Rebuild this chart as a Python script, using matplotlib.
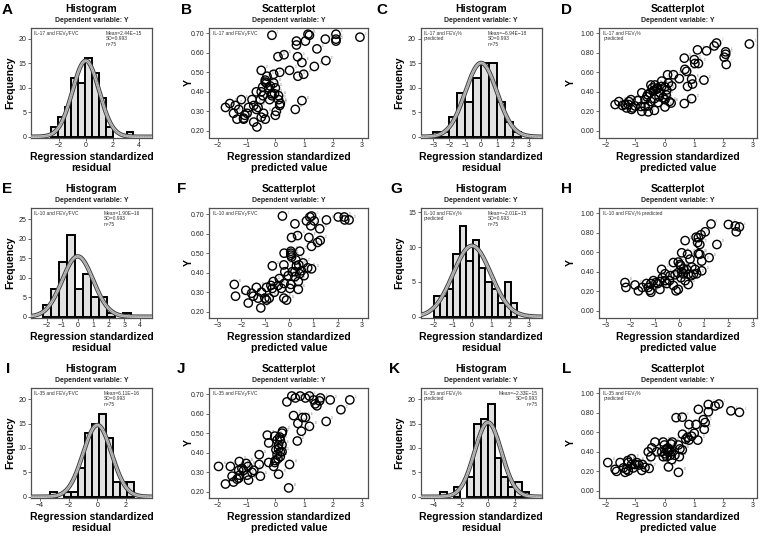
import numpy as np
import matplotlib
matplotlib.use("Agg")
import matplotlib.pyplot as plt

plt.rcParams['font.family'] = ['Liberation Sans', 'DejaVu Sans']

W, H = 761, 536
N_CASES = 75
RESID_SD = 0.993

# ---------------- histogram data (standardized residuals) ----------------
A_counts = [2, 4, 6, 12, 11, 16, 13, 8, 2, 0, 0, 1]
A_bin_start, A_bin_width = -2.62, 0.515
C_counts = [1, 1, 4, 9, 7, 12, 15, 15, 7, 3, 1]
C_bin_start, C_bin_width = -3.0, 0.5
E_counts = [3, 7, 14, 21, 7, 11, 5, 5, 1, 0, 1]
E_bin_start, E_bin_width = -2.26, 0.514
G_counts = [3, 3, 4, 9, 13, 8, 11, 7, 5, 4, 2, 5, 2]
G_bin_start, G_bin_width = -2.0, 0.338
I_counts = [1, 0, 1, 1, 6, 13, 15, 17, 12, 3, 3, 3]
I_bin_start, I_bin_width = -3.3, 0.488
K_counts = [1, 0, 2, 0, 4, 15, 16, 19, 8, 4, 2, 3, 1]
K_bin_start, K_bin_width = -3.56, 0.506

A_mean = "Mean=2.44E\u221215"
C_mean = "Mean=\u22126.94E\u221218"
E_mean = "Mean=1.90E\u221216"
G_mean = "Mean=\u22122.01E\u221215"
I_mean = "Mean=6.11E\u221216"
K_mean = "Mean=\u22122.33E\u221215"

# ---------------- scatter data (standardized predicted value, Y) ----------------
B_points = [(-0.12, 0.69), (0.73, 0.66), (0.73, 0.64), (1.04, 0.66), (1.18, 0.69), (1.13, 0.695),
            (1.73, 0.67), (2.10, 0.695), (2.10, 0.67), (2.10, 0.66), (2.93, 0.68), (1.44, 0.62),
            (0.30, 0.59), (0.09, 0.58), (0.77, 0.58), (0.92, 0.55), (1.75, 0.56), (1.35, 0.53),
            (0.49, 0.51), (0.15, 0.50), (-0.06, 0.49), (-0.49, 0.51), (0.78, 0.48), (0.98, 0.49),
            (-0.35, 0.46), (-0.35, 0.45), (-0.31, 0.445), (-0.66, 0.40), (-0.49, 0.40), (-0.23, 0.42),
            (0.0, 0.42), (-0.43, 0.38), (-0.12, 0.38), (-0.03, 0.39), (-0.81, 0.36), (-1.18, 0.36),
            (-1.39, 0.33), (-1.58, 0.34), (-1.73, 0.32), (-0.75, 0.33), (-0.93, 0.32), (-0.60, 0.32),
            (-0.66, 0.31), (-0.41, 0.29), (-1.27, 0.31), (-1.45, 0.29), (-1.33, 0.26), (-1.10, 0.265),
            (-1.10, 0.26), (-1.06, 0.28), (-0.75, 0.245), (-0.64, 0.22), (-0.49, 0.27), (-0.35, 0.26),
            (0.0, 0.28), (0.03, 0.30), (0.15, 0.33), (0.17, 0.34), (0.69, 0.31), (0.92, 0.355),
            (-0.12, 0.39), (-0.29, 0.48), (-0.06, 0.445), (0.11, 0.38), (-0.18, 0.43), (-0.44, 0.425),
            (0.11, 0.36), (-0.20, 0.36), (-0.98, 0.29), (-0.52, 0.36)]

D_points = [(2.89, 0.89), (1.77, 0.90), (1.69, 0.87), (2.08, 0.81), (2.08, 0.785), (2.03, 0.755),
            (2.10, 0.68), (1.12, 0.83), (1.43, 0.82), (1.01, 0.73), (1.03, 0.69), (1.15, 0.69),
            (0.67, 0.745), (0.69, 0.63), (0.75, 0.61), (0.92, 0.53), (0.95, 0.48), (0.78, 0.455),
            (1.34, 0.52), (0.92, 0.33), (0.67, 0.28), (0.10, 0.575), (0.30, 0.575), (0.50, 0.535),
            (-0.10, 0.51), (0.13, 0.49), (-0.47, 0.47), (-0.33, 0.47), (-0.27, 0.43), (-0.33, 0.42),
            (-0.24, 0.44), (-0.39, 0.41), (0.01, 0.45), (0.07, 0.42), (-0.78, 0.39), (-0.58, 0.37),
            (-0.50, 0.39), (-0.19, 0.35), (-0.05, 0.34), (0.05, 0.37), (0.16, 0.30), (0.01, 0.32),
            (-0.35, 0.33), (-0.67, 0.32), (-0.92, 0.31), (-1.15, 0.32), (-1.56, 0.30), (-1.69, 0.27),
            (-1.35, 0.27), (-1.24, 0.27), (-1.09, 0.235), (-1.13, 0.22), (-0.67, 0.25), (-0.56, 0.255),
            (-0.78, 0.20), (-0.56, 0.195), (-0.35, 0.21), (0.01, 0.245), (-1.44, 0.26), (-1.01, 0.255),
            (-0.61, 0.35), (-0.47, 0.30), (-0.22, 0.29), (-0.16, 0.39), (-0.10, 0.455), (-0.42, 0.44),
            (0.24, 0.46), (0.22, 0.285), (-0.81, 0.25), (-1.30, 0.235), (-1.22, 0.30)]

F_points = [(-0.29, 0.69), (0.92, 0.69), (0.85, 0.685), (0.71, 0.665), (1.03, 0.665), (0.89, 0.64),
            (0.23, 0.65), (1.54, 0.67), (2.03, 0.685), (2.28, 0.685), (2.30, 0.67), (2.48, 0.67),
            (1.26, 0.625), (0.09, 0.58), (0.34, 0.59), (0.81, 0.58), (1.28, 0.565), (1.17, 0.555),
            (0.92, 0.535), (0.43, 0.51), (0.06, 0.51), (0.06, 0.50), (0.06, 0.49), (-0.22, 0.50),
            (0.09, 0.48), (0.27, 0.465), (0.57, 0.45), (0.39, 0.44), (0.29, 0.435), (-0.23, 0.44),
            (0.92, 0.42), (0.76, 0.425), (-0.71, 0.435), (0.43, 0.395), (0.61, 0.385), (-0.05, 0.385),
            (-0.19, 0.405), (0.12, 0.405), (-0.67, 0.355), (-0.42, 0.37), (-0.22, 0.345), (0.37, 0.355),
            (0.06, 0.34), (0.02, 0.32), (0.37, 0.315), (-0.77, 0.335), (-0.95, 0.325), (-1.37, 0.325),
            (-2.29, 0.34), (-2.24, 0.28), (-1.81, 0.31), (-1.57, 0.295), (-1.50, 0.28), (-1.16, 0.30),
            (-1.30, 0.27), (-1.02, 0.27), (-0.84, 0.27), (-0.63, 0.30), (-1.71, 0.245), (-1.19, 0.22),
            (-0.95, 0.26), (-0.23, 0.27), (-0.12, 0.26), (-0.47, 0.335), (-0.33, 0.32), (0.23, 0.38),
            (-0.71, 0.32), (0.50, 0.41), (0.23, 0.405)]

H_points = [(1.30, 0.89), (2.01, 0.885), (2.29, 0.87), (2.46, 0.86), (2.33, 0.81), (1.06, 0.81),
            (0.89, 0.78), (0.69, 0.755), (0.78, 0.75), (0.24, 0.72), (0.75, 0.70), (0.84, 0.68),
            (1.54, 0.68), (0.84, 0.58), (0.78, 0.585), (0.10, 0.595), (0.34, 0.58), (1.22, 0.545),
            (0.44, 0.53), (0.92, 0.51), (-0.24, 0.495), (-0.04, 0.50), (0.03, 0.475), (0.07, 0.46),
            (0.17, 0.43), (0.51, 0.45), (0.30, 0.425), (0.65, 0.425), (0.92, 0.41), (0.71, 0.38),
            (0.37, 0.375), (0.48, 0.36), (-0.06, 0.39), (-0.69, 0.34), (-0.72, 0.425), (-0.40, 0.31),
            (0.07, 0.34), (0.37, 0.27), (-0.04, 0.22), (-0.13, 0.205), (-0.24, 0.26), (-0.58, 0.31),
            (-0.79, 0.30), (-0.95, 0.29), (-1.16, 0.28), (-1.27, 0.24), (-1.20, 0.21), (-1.16, 0.19),
            (-0.79, 0.22), (-1.51, 0.24), (-1.81, 0.265), (-1.67, 0.205), (-2.22, 0.29), (-2.18, 0.24),
            (-0.88, 0.28), (-0.51, 0.28), (0.17, 0.38), (-0.17, 0.37), (-0.38, 0.36), (-1.06, 0.31),
            (-1.34, 0.28), (0.24, 0.31), (0.10, 0.40), (0.58, 0.375), (-0.58, 0.38)]

J_points = [(0.57, 0.69), (0.69, 0.68), (0.86, 0.69), (1.18, 0.69), (1.04, 0.68), (1.56, 0.68),
            (1.33, 0.67), (1.38, 0.65), (1.53, 0.665), (1.90, 0.67), (2.58, 0.67), (2.27, 0.62),
            (1.76, 0.56), (0.63, 0.59), (0.94, 0.58), (1.04, 0.58), (0.78, 0.55), (1.18, 0.535),
            (0.90, 0.51), (0.76, 0.46), (0.23, 0.50), (0.25, 0.51), (-0.02, 0.485), (-0.28, 0.49),
            (-0.23, 0.45), (0.06, 0.465), (0.15, 0.48), (0.11, 0.44), (0.11, 0.42), (0.17, 0.405),
            (0.23, 0.405), (0.06, 0.39), (0.17, 0.38), (0.0, 0.36), (0.09, 0.37), (-0.02, 0.35),
            (-0.06, 0.33), (-0.23, 0.35), (-0.56, 0.39), (-0.56, 0.34), (-0.52, 0.28), (0.11, 0.29),
            (0.46, 0.22), (0.49, 0.34), (-1.97, 0.33), (-1.56, 0.33), (-1.25, 0.355), (-1.01, 0.345),
            (-0.95, 0.33), (-1.16, 0.32), (-1.10, 0.31), (-1.27, 0.31), (-0.81, 0.30), (-0.75, 0.31),
            (-1.50, 0.28), (-1.33, 0.265), (-1.27, 0.27), (-0.93, 0.26), (-1.45, 0.25), (-1.73, 0.24),
            (-1.24, 0.285), (-0.98, 0.285), (0.40, 0.66), (1.44, 0.64), (0.17, 0.465), (0.23, 0.44),
            (0.02, 0.415)]

L_points = [(1.85, 0.89), (1.49, 0.885), (1.72, 0.87), (1.15, 0.835), (2.26, 0.82), (2.55, 0.805),
            (1.49, 0.81), (0.39, 0.75), (0.60, 0.755), (1.32, 0.73), (1.38, 0.70), (0.83, 0.68),
            (1.07, 0.68), (1.35, 0.63), (1.01, 0.59), (0.61, 0.58), (0.92, 0.56), (0.78, 0.55),
            (0.83, 0.52), (1.13, 0.52), (0.72, 0.53), (-0.33, 0.50), (-0.05, 0.50), (0.26, 0.50),
            (0.22, 0.48), (0.47, 0.47), (-0.01, 0.47), (0.52, 0.43), (0.06, 0.43), (0.11, 0.44),
            (0.07, 0.42), (0.13, 0.40), (0.22, 0.40), (0.01, 0.38), (0.19, 0.365), (-0.56, 0.40),
            (-0.27, 0.40), (0.07, 0.35), (-0.05, 0.35), (0.50, 0.35), (-0.47, 0.35), (0.13, 0.245),
            (0.47, 0.19), (-1.94, 0.29), (-1.52, 0.29), (-1.24, 0.29), (-1.01, 0.27), (-0.88, 0.265),
            (-1.13, 0.27), (-0.95, 0.29), (-1.07, 0.235), (-1.41, 0.235), (-1.30, 0.22), (-1.64, 0.20),
            (-1.24, 0.205), (-0.78, 0.21), (-0.53, 0.23), (-1.35, 0.19), (-1.69, 0.22), (-0.76, 0.27),
            (-0.67, 0.24), (-1.13, 0.33), (-1.26, 0.31), (0.16, 0.42), (0.35, 0.365), (-0.10, 0.40),
            (-0.44, 0.44), (0.60, 0.42), (0.24, 0.32)]

hist_labels = {
    'A': "IL-17 and FEV\u2081/FVC", 'C': "IL-17 and FEV\u2081%\npredicted",
    'E': "IL-10 and FEV\u2081/FVC", 'G': "IL-10 and FEV\u2081%\npredicted",
    'I': "IL-35 and FEV\u2081/FVC", 'K': "IL-35 and FEV\u2081%\npredicted",
}
scatter_labels = {
    'B': "IL-17 and FEV\u2081/FVC", 'D': "IL-17 and FEV\u2081%\npredicted",
    'F': "IL-10 and FEV\u2081/FVC", 'H': "IL-10 and FEV\u2081% predicted",
    'J': "IL-35 and FEV\u2081/FVC", 'L': "IL-35 and FEV\u2081%\npredicted",
}

fig = plt.figure(figsize=(W / 100, H / 100), dpi=100)
fig.patch.set_facecolor('white')

FRAME = '#505050'
TXT = '#222222'


def add_axes_px(l, t, r, b):
    return fig.add_axes([l / W, 1 - b / H, (r - l) / W, (b - t) / H])


def style_axes(ax, hpx):
    for s in ax.spines.values():
        s.set_color(FRAME)
        s.set_linewidth(0.9)
    ax.tick_params(labelsize=5, length=2, width=0.6, color=FRAME, pad=1.5, labelcolor=TXT)
    ax.text(0.5, 1 + 7 / hpx, "Dependent variable: Y", transform=ax.transAxes,
            ha='center', va='center', fontsize=5, fontweight='bold', color=TXT)


def titles(ax, hpx, title, xlab, xl_off):
    ax.text(0.5, 1 + 19.5 / hpx, title, transform=ax.transAxes, ha='center', va='center',
            fontsize=7.5, fontweight='bold', color='black')
    ax.text(0.5, -xl_off / hpx, xlab, transform=ax.transAxes, ha='center', va='top',
            fontsize=7.5, fontweight='bold', linespacing=1.15, color='black')


def letter(ch, x, y):
    fig.text(x / W, 1 - y / H, ch, ha='center', va='center', fontsize=11, fontweight='bold')


def hist_panel(key, counts, start, width, rect, xlim, ylim, xticks, yticks, mean_txt,
               mean_x, mean_ha, ylab_x, letter_xy):
    ax = add_axes_px(*rect)
    hpx = rect[3] - rect[1]
    counts = np.asarray(counts, dtype=float)
    lefts = start + width * np.arange(len(counts))
    keep = counts > 0
    ax.bar(lefts[keep], counts[keep], width=width, align='edge', color='#e2e2e2',
           edgecolor='black', linewidth=1.4, zorder=2)
    xs = np.linspace(xlim[0], xlim[1], 500)
    ys = N_CASES * width * np.exp(-0.5 * (xs / RESID_SD) ** 2) / (RESID_SD * np.sqrt(2 * np.pi))
    ax.plot(xs, ys, color='#3a3a3a', lw=3.2, zorder=3, solid_capstyle='butt')
    ax.plot(xs, ys, color='#bdbdbd', lw=1.9, zorder=4, solid_capstyle='butt')
    ax.plot(xs, ys, color='#707070', lw=0.5, ls=(0, (1, 1.3)), zorder=5)
    ax.set_xlim(*xlim)
    ax.set_ylim(*ylim)
    ax.set_xticks(xticks)
    ax.set_yticks(yticks)
    style_axes(ax, hpx)
    ax.text(0.025, 0.975, hist_labels[key], transform=ax.transAxes, ha='left', va='top',
            fontsize=3.5, color='#333333', linespacing=1.1)
    ax.text(mean_x, 0.975, f"{mean_txt}\nSD=0.993\nn={N_CASES}", transform=ax.transAxes,
            ha=mean_ha, va='top', fontsize=3.5, color='#333333', linespacing=1.1)
    ax.set_ylabel("Frequency", fontsize=7.5, fontweight='bold')
    ax.yaxis.set_label_coords(ylab_x, 0.5)
    titles(ax, hpx, "Histogram", "Regression standardized\nresidual", 14)
    letter(key, *letter_xy)


def scatter_panel(key, points, rect, xlim, ylim, xticks, yticks, ylab_x, letter_xy):
    ax = add_axes_px(*rect)
    hpx = rect[3] - rect[1]
    xs = [p[0] for p in points]
    ys = [p[1] for p in points]
    ax.scatter(xs, ys, s=36, facecolors='none', edgecolors='black', linewidths=1.0, zorder=3)
    for i, (x, y) in enumerate(points):
        ax.annotate(str(i + 1), (x, y), xytext=(3.6, 1.5), textcoords='offset points',
                    fontsize=1.8, color='#8a8a8a', zorder=2)
    ax.set_xlim(*xlim)
    ax.set_ylim(*ylim)
    ax.set_xticks(xticks)
    ax.set_yticks(yticks)
    ax.set_yticklabels([f"{v:.2f}" for v in yticks])
    style_axes(ax, hpx)
    ax.text(0.025, 0.975, scatter_labels[key], transform=ax.transAxes, ha='left', va='top',
            fontsize=3.5, color='#333333', linespacing=1.1)
    ax.set_ylabel("Y", fontsize=7.5, fontweight='bold')
    ax.yaxis.set_label_coords(ylab_x, 0.5)
    titles(ax, hpx, "Scatterplot", "Regression standardized\npredicted value", 14)
    letter(key, *letter_xy)


rows = [(28, 137.5), (208, 317.5), (388, 497.5)]
colx = [(31, 152), (209.3, 368.3), (420.7, 541.7), (599.3, 757)]
r1, r2, r3 = rows

hy = [0, 5, 10, 15, 20]
hist_panel('A', A_counts, A_bin_start, A_bin_width, (colx[0][0], r1[0], colx[0][1], r1[1]),
           (-4.1, 4.95), (-0.15, 22.2), [-2, 0, 2, 4], hy, A_mean, 0.62, 'left', -0.13, (7, 10))
hist_panel('C', C_counts, C_bin_start, C_bin_width, (colx[2][0], r1[0], colx[2][1], r1[1]),
           (-3.79, 3.8), (-0.15, 22.2), [-3, -2, -1, 0, 1, 2, 3], hy, C_mean, 0.555, 'left', -0.14, (382, 10))
hist_panel('E', E_counts, E_bin_start, E_bin_width, (colx[0][0], r2[0], colx[0][1], r2[1]),
           (-3.0, 4.77), (-0.2, 27.9), [-2, -1, 0, 1, 2, 3, 4], [0, 5, 10, 15, 20, 25], E_mean, 0.60, 'left', -0.13, (7, 189))
hist_panel('G', G_counts, G_bin_start, G_bin_width, (colx[2][0], r2[0], colx[2][1], r2[1]),
           (-2.7, 3.67), (-0.1, 15.6), [-2, -1, 0, 1, 2, 3], [0, 5, 10, 15], G_mean, 0.555, 'left', -0.14, (396, 189))
hist_panel('I', I_counts, I_bin_start, I_bin_width, (colx[0][0], r3[0], colx[0][1], r3[1]),
           (-4.63, 3.81), (-0.15, 22.3), [-4, -2, 0, 2], hy, I_mean, 0.60, 'left', -0.13, (8, 369))
hist_panel('K', K_counts, K_bin_start, K_bin_width, (colx[2][0], r3[0], colx[2][1], r3[1]),
           (-4.99, 3.98), (-0.15, 22.3), [-4, -2, 0, 2], hy, K_mean, 0.97, 'right', -0.14, (395, 369))

sy1 = [0.20, 0.30, 0.40, 0.50, 0.60, 0.70]
sy2 = [0.0, 0.2, 0.4, 0.6, 0.8, 1.0]
scatter_panel('B', B_points, (colx[1][0], r1[0], colx[1][1], r1[1]), (-2.29, 3.22), (0.166, 0.727),
              [-2, -1, 0, 1, 2, 3], sy1, -0.10, (186, 10))
scatter_panel('D', D_points, (colx[3][0], r1[0], colx[3][1], r1[1]), (-2.23, 3.15), (-0.068, 1.054),
              [-2, -1, 0, 1, 2, 3], sy2, -0.15, (566, 10))
scatter_panel('F', F_points, (colx[1][0], r2[0], colx[1][1], r2[1]), (-3.33, 3.28), (0.171, 0.731),
              [-3, -2, -1, 0, 1, 2, 3], sy1, -0.10, (182, 189))
scatter_panel('H', H_points, (colx[3][0], r2[0], colx[3][1], r2[1]), (-3.27, 3.18), (-0.068, 1.054),
              [-3, -2, -1, 0, 1, 2, 3], sy2, -0.15, (566, 189))
scatter_panel('J', J_points, (colx[1][0], r3[0], colx[1][1], r3[1]), (-2.29, 3.22), (0.171, 0.731),
              [-2, -1, 0, 1, 2, 3], sy1, -0.10, (181, 369))
scatter_panel('L', L_points, (colx[3][0], r3[0], colx[3][1], r3[1]), (-2.23, 3.15), (-0.068, 1.054),
              [-2, -1, 0, 1, 2, 3], sy2, -0.15, (567, 369))

fig.savefig("out.png", dpi=100, facecolor='white')
